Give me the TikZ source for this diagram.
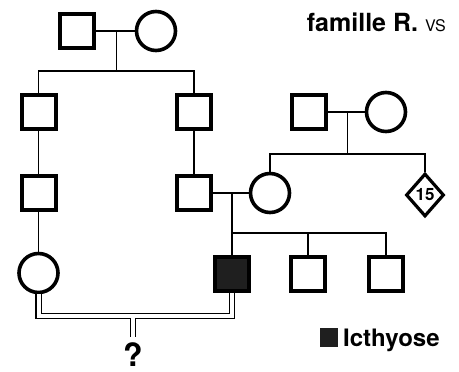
\documentclass[tikz,border=0pt]{standalone}
\usepackage{fontspec}
\setmainfont{TeX Gyre Heros}
\usepackage{tikz}
\usetikzlibrary{shapes.geometric}
\usetikzlibrary{calc}

\begin{document}
\begin{tikzpicture}[x=1pt,y=-1pt,
male/.style={draw,rectangle,line width=4pt,minimum size=34pt,inner sep=0pt},
female/.style={draw,circle,line width=3.6pt,minimum size=39pt,inner sep=0pt},
sibs/.style={draw,diamond,line width=3.2pt,minimum width=38pt,minimum height=43pt,inner sep=0pt,
  font=\bfseries\fontsize{17}{17}\selectfont},
affected/.style={male,fill=black!88},
link/.style={line width=1.6pt},
consang/.style={line width=1.4pt,double,double distance=4pt}]
%\tikzstyle{every node}=[draw]
\useasboundingbox (0,0) rectangle (459,372);

% family of the father
\node[male] (gf) at (77,31) {};
\node[female] (gm) at (156,31) {};
\node[male] (a1) at (38.5,112) {};
\node[male] (b1) at (194,112) {};
\node[male] (a2) at (38.5,193) {};
\node[male] (b2) at (194,193) {};
\node[female] (a3) at (38.5,273) {};

% family of the mother
\node[male] (rgf) at (309,112) {};
\node[female] (rgm) at (386,112) {};
\node[female] (c1) at (270,193) {};
\node[sibs] (c2) at (425,195) {15};

% children
\node[affected] (d1) at (232,274) {};
\node[male] (d2) at (308,274) {};
\node[male] (d3) at (386,274) {};

\draw[link] (gf) -- (gm);
\coordinate (m1) at ($(gf)!0.5!(gm)$);
\draw[link] (m1) -- ++(0,40) coordinate (s1);
\draw[link] (a1.north) |- (s1) -| (b1.north);
\draw[link] (a1) -- (a2);
\draw[link] (a2) -- (a3);
\draw[link] (b1) -- (b2);

\draw[link] (rgf) -- (rgm);
\coordinate (m3) at ($(rgf)!0.5!(rgm)$);
\draw[link] (m3) -- ++(0,42) coordinate (s3);
\draw[link] (c1.north) |- (s3) -| (c2.north);

\draw[link] (b2) -- (c1);
\coordinate (m2) at ($(b2)!0.5!(c1)$);
\draw[link] (m2) -- (d1.north);
\coordinate (s2) at (232,233);
\draw[link] (s2) -| (d3.north);
\draw[link] (d2.north) -- (d2.north |- s2);

% consanguineous mating
\coordinate (s4) at (133,316);
\draw[consang] (a3.south) |- (s4) -| (d1.south) (s4) -- ++(0,21) coordinate (q);
\node[anchor=north,inner sep=0pt,font=\bfseries\fontsize{32}{32}\selectfont] (qm) at ($(q)+(0,5)$) {?};

% legend
\node[fill=black!88,minimum width=18pt,minimum height=19pt,inner sep=0pt] (key) at (329,337.5) {};
\node[anchor=base west,inner sep=0pt,font=\bfseries\fontsize{24}{24}\selectfont] (keytext) at (343,346) {Icthyose};
\node[anchor=base east,inner sep=0pt] (title) at (446,31)
  {\bfseries\fontsize{25}{25}\selectfont famille R. {\mdseries\fontsize{16}{16}\selectfont VS}};
\end{tikzpicture}
\end{document}
